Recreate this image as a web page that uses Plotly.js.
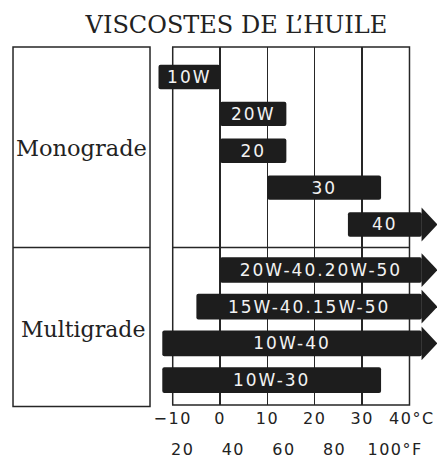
<!DOCTYPE html>
<html>
<head>
<meta charset="utf-8">
<script src="https://cdn.plot.ly/plotly-3.0.1.min.js"></script>
<style>
  html, body { margin: 0; padding: 0; background: #fff; }
  #chart { width: 437px; height: 461px; }
  .bartext { letter-spacing: 2px; }
  .xtick text, .x2tick text { letter-spacing: 1.5px; }
</style>
</head>
<body>
<div id="chart"></div>
<script>
// ---- data ----
const monoGrades = ['10W', '20W', '20', '30', '40'];
const monoStart  = [-13, 0, 0, 10, 27];
const monoEnd    = [0, 14, 14, 34, 42.6];
const monoArrow  = [false, false, false, false, true];

const multiGrades = ['20W-40.20W-50', '15W-40.15W-50', '10W-40', '10W-30'];
const multiStart  = [0, -5, -12.2, -12.2];
const multiEnd    = [42.6, 42.6, 42.6, 34];
const multiArrow  = [true, true, true, false];

const groupLabels = ['Monograde', 'Multigrade'];
const cTickVals = [-10, 0, 10, 20, 30, 40];
const cTickText = ['\u221210', '0', '10', '20', '30', '\u200940°C'];
const fTickVals = [20, 40, 60, 80, 100];
const fTickText = ['20', '40', '60', '80', '\u00a0\u00a0\u00a0100°F'];
const titleText = 'VISCOSTES DE L’HUILE';

// ---- styles ----
const barColor = '#1d1d1d';
const lineColor = '#262626';
const headLen = 3.3;
const headHalf = 0.46;

function barTrace(names, start, end, yaxis, width) {
  return {
    type: 'bar', orientation: 'h',
    y: names.map((_, i) => i),
    x: end.map((e, i) => e - start[i]),
    base: start,
    width: width,
    yaxis: yaxis, xaxis: 'x',
    text: names,
    textposition: 'inside',
    insidetextanchor: 'middle',
    textangle: 0,
    constraintext: 'none',
    textfont: { family: 'DejaVu Sans', size: 17, color: '#f2f2f2' },
    marker: { color: barColor, line: { width: 0 }, cornerradius: 2 },
    hoverinfo: 'skip', showlegend: false
  };
}

function headTraces(end, arrows, yaxis) {
  const out = [];
  arrows.forEach((a, i) => {
    if (!a) return;
    out.push({
      type: 'scatter', mode: 'lines', fill: 'toself',
      x: [end[i] - 0.05, end[i] - 0.05, end[i] + headLen, end[i] - 0.05],
      y: [i - headHalf, i + headHalf, i, i - headHalf],
      yaxis: yaxis, xaxis: 'x',
      line: { width: 0, color: barColor }, fillcolor: barColor,
      hoverinfo: 'skip', showlegend: false
    });
  });
  return out;
}

const traces = [
  barTrace(monoGrades, monoStart, monoEnd, 'y', 0.66),
  barTrace(multiGrades, multiStart, multiEnd, 'y2', 0.70),
  ...headTraces(monoEnd, monoArrow, 'y'),
  ...headTraces(multiEnd, multiArrow, 'y2'),
  { type: 'scatter', mode: 'none', x: [fTickVals[0]], y: [0], xaxis: 'x2', yaxis: 'y',
    hoverinfo: 'skip', showlegend: false }
];

const split = 0.44;
const layout = {
  width: 437, height: 461,
  margin: { l: 155, r: 0, t: 47, b: 56, pad: 0 },
  paper_bgcolor: '#ffffff', plot_bgcolor: 'rgba(0,0,0,0)',
  showlegend: false,
  title: {
    text: titleText,
    font: { family: 'DejaVu Serif', size: 24, color: '#222' },
    xref: 'container', yref: 'container',
    x: 0.541, y: 0.947, xanchor: 'center', yanchor: 'middle'
  },
  xaxis: {
    range: [-13.74, 45.81], domain: [0, 1], anchor: 'y2',
    tickmode: 'array', tickvals: cTickVals, ticktext: cTickText,
    showgrid: true, gridcolor: lineColor, gridwidth: 1.3,
    zeroline: false, showline: false, ticks: '',
    ticklabelstandoff: 2, ticklabeloverflow: 'allow',
    tickfont: { family: 'DejaVu Sans', size: 16, color: '#222' },
    fixedrange: true
  },
  xaxis2: {
    range: [9.06, 120.45], overlaying: 'x', anchor: 'free', position: 0, side: 'bottom',
    tickmode: 'array', tickvals: fTickVals, ticktext: fTickText,
    showgrid: false, zeroline: false, showline: false, ticks: '',
    ticklabelstandoff: 33, ticklabeloverflow: 'allow',
    tickfont: { family: 'DejaVu Sans', size: 16, color: '#222' },
    fixedrange: true
  },
  yaxis: {
    domain: [split, 1], range: [4.624, -0.814], anchor: 'x',
    showgrid: false, zeroline: false, showline: false, showticklabels: false, ticks: '',
    fixedrange: true
  },
  yaxis2: {
    domain: [0, split], range: [3.68, -0.614], anchor: 'x',
    showgrid: false, zeroline: false, showline: false, showticklabels: false, ticks: '',
    fixedrange: true
  },
  shapes: [
    { type: 'rect', layer: 'below', xref: 'x', yref: 'paper',
      x0: cTickVals[0], x1: cTickVals[cTickVals.length - 1], y0: 0, y1: 1,
      line: { color: lineColor, width: 1.5 } },
    { type: 'line', layer: 'below', xref: 'x', yref: 'paper',
      x0: cTickVals[0], x1: cTickVals[cTickVals.length - 1], y0: split, y1: split,
      line: { color: lineColor, width: 1.5 } },
    { type: 'rect', xref: 'paper', yref: 'paper',
      x0: -0.5035, x1: -0.0177, y0: -0.004, y1: 1.0,
      line: { color: lineColor, width: 1.5 } },
    { type: 'line', xref: 'paper', yref: 'paper',
      x0: -0.5035, x1: -0.0177, y0: split, y1: split,
      line: { color: lineColor, width: 1.5 } }
  ],
  annotations: [
    { text: groupLabels[0], xref: 'paper', yref: 'paper', x: -0.2624, y: 0.7165,
      xanchor: 'center', yanchor: 'middle', showarrow: false,
      font: { family: 'DejaVu Serif', size: 22.5, color: '#222' } },
    { text: groupLabels[1], xref: 'paper', yref: 'paper', x: -0.257, y: 0.2095,
      xanchor: 'center', yanchor: 'middle', showarrow: false,
      font: { family: 'DejaVu Serif', size: 22, color: '#222' } }
  ]
};

Plotly.newPlot('chart', traces, layout, { displayModeBar: false, staticPlot: true });
</script>
</body>
</html>
